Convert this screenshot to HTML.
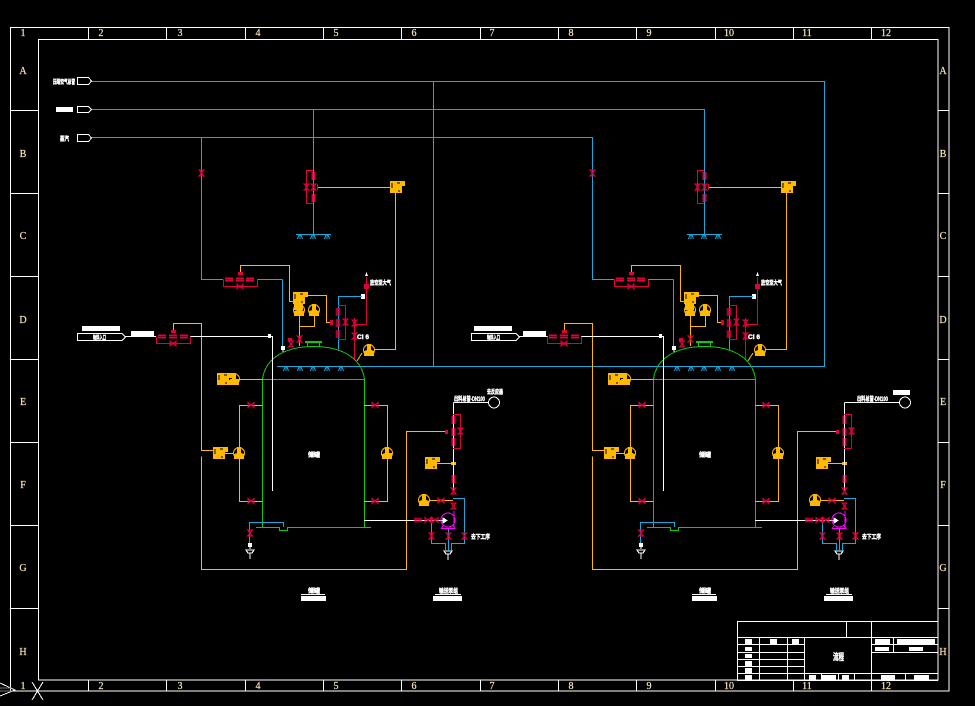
<!DOCTYPE html>
<html><head><meta charset="utf-8"><style>
html,body{margin:0;padding:0;background:#000;width:975px;height:706px;overflow:hidden}
svg{display:block}
.l{font:10px "Liberation Serif",serif;fill:#fbe6b8;stroke:#fbe6b8;stroke-width:.2;text-anchor:middle}
.t{font:bold 6px "Liberation Sans","Noto Sans CJK SC",sans-serif;fill:#fff;stroke:#fff;stroke-width:.4}
</style></head><body>
<svg width="975" height="706" viewBox="0 0 975 706" xmlns="http://www.w3.org/2000/svg" shape-rendering="crispEdges" fill="none">
<defs>
<path id="v" d="M-2.5-3H2.5L0 0L2.500 3H-2.500L0 0Z" stroke="#e0003c" fill="#e0003c" fill-opacity=".5"/>
<path id="h" d="M-3-2.5V2.5L0 0L3 2.500V-2.500L0 0Z" stroke="#e0003c" fill="#e0003c" fill-opacity=".5"/>
<path id="dv" d="M-2.5-3H2.5M-2.5-1H2.5M-2.5 1H2.5M-2.5 3H2.5M-1-4V4M1-4V4" stroke="#e0003c"/>
<path id="dh" d="M-3-2.5V2.5M-1-2.5V2.5M1-2.5V2.5M3-2.5V2.5M-4-1H4M-4 1H4" stroke="#e0003c"/>
<g id="g"><circle r="5.5" stroke="#ffb900"/><path d="M-5 6V1L-2 0V-6H2V0L5 1V6Z" fill="#ffb900"/></g>
<g id="b"><rect x="0" y="0" width="12" height="12" fill="#ffb900"/><rect x="12" y="0" width="3" height="5" fill="#ffb900"/><path d="M2 2V7M7 2H10M9 9V11" stroke="#000"/></g>
<path id="n" d="M-2.5 4L-1 0H1L2.5 4M0 0V4" stroke="#1aa9dc"/>

<g id="unit">
 <!-- tank -->
 <g stroke="#10c810">
  <path d="M262.5 379C266 356 288 346.500 313.500 346.500S361 356 364.500 379"/>
  <path d="M262.500 379.500H364.500M262.500 379V527M364.500 379V527M256 527.500H279.500V530.500H287.500V527.500H371"/>
  <path d="M307.500 342V347M319.500 342V347"/>
  <rect x="305" y="341" width="17" height="2" fill="#10c810" stroke="none"/>
 </g>
 <!-- yellow -->
 <g stroke="#ffb900">
  <path d="M395.500 193V349.500H374M318 187.500H390M362 353L357 361"/>
  <path d="M240.500 272V265.500H289.500V301.500H294M306 295.500H326.500V322.500H332"/>
  <path d="M299.500 316V346M314.500 315V326.500H299.500"/>
  <path d="M173.500 333V323.500H201.500V450.500H213M201.500 456.500V569.500H406.500V431.500H447"/>
  <path d="M230 379.500H262.500M225 453.500H234"/>
  <path d="M262 405.500H239.500V501.500H262M364 405.500H387.500V501.500H364M393 453.500H387"/>
  <path d="M437 463.500H452M430 500.500H453"/>
 </g>
 <rect x="451" y="462" width="5" height="3" fill="#ffb900"/>
 <use href="#b" x="390" y="181"/><use href="#b" x="293" y="292"/><use href="#b" x="217" y="373"/><use href="#b" x="213" y="447"/><use href="#b" x="425" y="457"/>
 <rect x="294" y="304" width="9" height="6" fill="#ffb900"/>
 <use href="#g" x="299" y="310"/><use href="#g" x="314" y="310"/><use href="#g" x="369" y="350"/><use href="#g" x="234" y="379"/><use href="#g" x="239" y="453"/><use href="#g" x="387" y="453"/><use href="#g" x="424" y="500"/>
 <!-- white piping -->
 <g stroke="#fff">
  <path d="M190 336.500H272.500V491"/><path d="M364 520.500H447"/>
  <path d="M453.500 402.500V490"/>
  <path d="M283 350V352"/>
  <path d="M246 550H254L252 553H248ZM250 553V559M444 551H452L450 554H446ZM448 554V560M250 546V549"/>
 </g>
 <rect x="268" y="334" width="3" height="4" fill="#fff"/><rect x="281" y="346" width="4" height="4" fill="#fff"/><rect x="361" y="294" width="4" height="5" fill="#fff"/><rect x="248" y="543" width="4" height="4" fill="#fff"/>
 <path d="M365 276L366.500 272L368 276Z" fill="#fff"/>
 <path d="M443 518L447 520.500L443 523Z" fill="#fff" stroke="#fff"/>
 <!-- blue branch -->
 <g stroke="#1aa9dc">
  <path d="M282.500 279.500V346"/>
  <path d="M338.500 350V296.500H362"/>
  <path d="M249.500 543V522.500H283.500V527"/>
  <path d="M431.500 520V543.500H445.500V551M448.500 528V551M451.500 551V543.500H464.500V498.500H453"/>
 </g>
 <g><use href="#n" x="286" y="367"/><use href="#n" x="300" y="367"/><use href="#n" x="313" y="367"/><use href="#n" x="327" y="367"/><use href="#n" x="341" y="367"/><use href="#n" x="300" y="235"/><use href="#n" x="313" y="235"/><use href="#n" x="327" y="235"/></g>
 <!-- red piping -->
 <g stroke="#e0003c">
  <path d="M313 170.500H306.500V203.500H313"/>
  <path d="M317.500 184V190"/>
  <path d="M223.500 279.500V286.500H257.500V279.500"/>
  <path d="M156.500 336.500V343.500H190.500V336.500"/>
  <path d="M338 305.500H345.500V339.500H338"/>
  <path d="M354.500 318V359"/>
  <path d="M366.500 277V324.500H356"/>
  <path d="M453 414.500H460.500V448.500H453"/>
 </g>
 <rect x="238" y="272" width="5" height="3" fill="#e0003c"/><rect x="171" y="330" width="5" height="3" fill="#e0003c"/>
 <rect x="364" y="284" width="5" height="5" fill="#e0003c"/><rect x="330" y="320" width="3" height="5" fill="#e0003c"/>
 <rect x="288" y="338" width="4" height="3" fill="#e0003c"/><rect x="445" y="430" width="3" height="4" fill="#e0003c"/>
 <use href="#dh" x="229" y="279.500"/><use href="#dh" x="240" y="279.500"/><use href="#dh" x="250" y="279.500"/><use href="#h" x="240" y="286.500"/>
 <use href="#dh" x="162" y="336.500"/><use href="#dh" x="173" y="336.500"/><use href="#dh" x="184" y="336.500"/><use href="#h" x="173" y="343.500"/>
 <use href="#dv" x="313.500" y="176"/><use href="#dv" x="313.500" y="198"/><use href="#v" x="313.500" y="187"/><use href="#v" x="306.500" y="187"/>
 <use href="#v" x="201.500" y="173"/>
 <use href="#dv" x="338" y="312"/><use href="#dv" x="338" y="323"/><use href="#dv" x="338" y="334"/><use href="#v" x="345.500" y="322"/>
 <use href="#v" x="354.500" y="323"/><use href="#v" x="354.500" y="336"/>
 <use href="#v" x="299.500" y="339"/><use href="#v" x="291" y="344"/>
 <use href="#h" x="251" y="405"/><use href="#h" x="251" y="501"/><use href="#h" x="375" y="405"/><use href="#h" x="375" y="501"/>
 <use href="#v" x="250" y="533"/>
 <use href="#dv" x="453.500" y="420"/><use href="#dv" x="453.500" y="432"/><use href="#dv" x="453.500" y="442"/><use href="#v" x="460.500" y="431"/>
 <use href="#dv" x="453.500" y="479"/><use href="#v" x="453.500" y="491"/><use href="#h" x="441" y="500.500"/><use href="#v" x="453.500" y="506"/>
 <use href="#dh" x="418" y="520"/><use href="#h" x="428" y="520"/><use href="#h" x="435" y="520"/>
 <use href="#v" x="431.500" y="536"/><use href="#v" x="448.500" y="536"/><use href="#v" x="464.500" y="536"/>
 <!-- pump -->
 <g stroke="#ff00ff"><circle cx="448" cy="520" r="7"/><path d="M454 511V527M441 528.500H455.500M443 526L441 528.500M453 526L455 528.500"/></g>
 <path d="M301 594.500H325M435 594.500H461" stroke="#fff"/>
 <rect x="301" y="596" width="25" height="5" fill="#fff"/><rect x="433" y="596" width="29" height="5" fill="#fff"/>
</g>
</defs>

<!-- frame -->
<g stroke="#fff">
<rect x="10.500" y="27.500" width="938.500" height="663.500"/>
<rect x="38.500" y="39.500" width="899.500" height="640.500"/>
<path d="M10 110.500H38M10 193.500H38M10 276.500H38M10 359.500H38M10 442.500H38M10 525.500H38M10 608.500H38"/>
<path d="M938 110.500H949M938 193.500H949M938 276.500H949M938 359.500H949M938 442.500H949M938 525.500H949M938 608.500H949"/>
<path d="M88.500 27V39M166.500 27V39M245.500 27V39M323.500 27V39M401.500 27V39M480.500 27V39M558.500 27V39M636.500 27V39M715.500 27V39M793.500 27V39M871.500 27V39"/>
<path d="M88.500 680V691M166.500 680V691M245.500 680V691M323.500 680V691M401.500 680V691M480.500 680V691M558.500 680V691M636.500 680V691M715.500 680V691M793.500 680V691M871.500 680V691"/>
<path d="M0 683L15 690L0 696M32 682L43 700M43 682L32 700"/>
</g>
<path d="M0 688H12M0 691H12" stroke="#777"/>
<g class="l">
<text x="23" y="36">1</text><text x="101" y="36">2</text><text x="180" y="36">3</text><text x="258" y="36">4</text><text x="336" y="36">5</text><text x="414" y="36">6</text><text x="492" y="36">7</text><text x="571" y="36">8</text><text x="649" y="36">9</text><text x="729" y="36">10</text><text x="807" y="36">11</text><text x="886" y="36">12</text>
<text x="23" y="689">1</text><text x="101" y="689">2</text><text x="180" y="689">3</text><text x="258" y="689">4</text><text x="336" y="689">5</text><text x="414" y="689">6</text><text x="492" y="689">7</text><text x="571" y="689">8</text><text x="649" y="689">9</text><text x="729" y="689">10</text><text x="807" y="689">11</text><text x="886" y="689">12</text>
<text x="23" y="74">A</text><text x="23" y="157">B</text><text x="23" y="239">C</text><text x="23" y="323">D</text><text x="23" y="405">E</text><text x="23" y="488">F</text><text x="23" y="571">G</text><text x="23" y="655">H</text>
<text x="943" y="74">A</text><text x="943" y="157">B</text><text x="943" y="239">C</text><text x="943" y="323">D</text><text x="943" y="405">E</text><text x="943" y="488">F</text><text x="943" y="571">G</text><text x="943" y="655">H</text>
</g>

<!-- main headers -->
<g stroke="#1aa9dc">
<path d="M91 81.500H824.500V366.500H277"/>
<path d="M433.500 81.500V366.500"/>
<path d="M91 109.500H704.500V235M313.500 109.500V235"/>
<path d="M91 137.500H592.500V279.500H614M201.500 137.500V279.500H223"/>
<path d="M257 279.500H282.500M648 279.500H673.500"/>
<path d="M296 234.500H331M687 234.500H722"/>
<path d="M668 366.500H824"/>
</g>
<g stroke="#fff">
<path d="M77.500 77.500H88.500L91.500 81L88.500 84.500H77.500Z"/>
<path d="M77.500 106.500H88.500L91.500 109.500L88.500 112.500H77.500Z"/>
<path d="M77.500 134.500H88.500L91.500 138L88.500 141.500H77.500Z"/>
<path d="M77.500 333.500H122L125.500 337L122 340.500H77.500Z"/>
<path d="M125 336.500H156"/>
<path d="M471.500 333.500H516L519.500 337L516 340.500H471.500Z"/>
<path d="M519 336.500H548"/>
<path d="M453.500 402.500H488.500"/>
<circle cx="494" cy="402.500" r="5.500"/>
<path d="M844.500 402.500H900"/>
<circle cx="905" cy="402.500" r="5.500"/>
</g>
<use href="#unit"/>
<use href="#unit" x="391"/>
<g fill="#fff">
<rect x="56" y="107" width="17" height="5"/>
<rect x="82" y="326" width="38" height="5"/><rect x="131" y="331" width="23" height="5"/>
<rect x="474" y="326" width="38" height="5"/><rect x="523" y="331" width="23" height="5"/>
<rect x="893" y="390" width="17" height="5"/>
</g>
<g class="t">
<text x="53" y="84" textLength="22" lengthAdjust="spacingAndGlyphs">压缩空气总管</text>
<text x="60" y="141" textLength="9" lengthAdjust="spacingAndGlyphs">蒸汽</text>
<text x="93" y="340" textLength="13" lengthAdjust="spacingAndGlyphs">物料入口</text>
<text x="487" y="340" textLength="13" lengthAdjust="spacingAndGlyphs">物料入口</text>
<text x="370" y="285" textLength="21" lengthAdjust="spacingAndGlyphs">放空至大气</text>
<text x="761" y="285" textLength="21" lengthAdjust="spacingAndGlyphs">放空至大气</text>
<text x="357" y="339" textLength="12" lengthAdjust="spacingAndGlyphs">CI 6</text>
<text x="748" y="339" textLength="12" lengthAdjust="spacingAndGlyphs">CI 6</text>
<text x="454" y="401" textLength="31" lengthAdjust="spacingAndGlyphs">出料总管-DN100</text>
<text x="857" y="401" textLength="31" lengthAdjust="spacingAndGlyphs">出料总管-DN100</text>
<text x="487" y="394" textLength="16" lengthAdjust="spacingAndGlyphs">去反应器</text>
<text x="471" y="539" textLength="19" lengthAdjust="spacingAndGlyphs">去下工序</text>
<text x="862" y="539" textLength="19" lengthAdjust="spacingAndGlyphs">去下工序</text>
<text x="308" y="593" textLength="12" lengthAdjust="spacingAndGlyphs">储罐</text>
<text x="699" y="593" textLength="12" lengthAdjust="spacingAndGlyphs">储罐</text>
<text x="439" y="593" textLength="19" lengthAdjust="spacingAndGlyphs">输送泵组</text>
<text x="830" y="593" textLength="19" lengthAdjust="spacingAndGlyphs">输送泵组</text>
<text x="308" y="457" textLength="12" lengthAdjust="spacingAndGlyphs">储罐</text>
<text x="699" y="457" textLength="12" lengthAdjust="spacingAndGlyphs">储罐</text>
<text x="833" y="660" textLength="11" lengthAdjust="spacingAndGlyphs" style="font-size:9px">流程</text>
</g>

<!-- title block -->
<g stroke="#fff">
<path d="M737.500 680V621.500H938M737.500 637.500H938M846.500 621V637M871.500 621V691"/>
<path d="M737 644.500H804M737 652.500H804M737 659.500H804M737 666.500H804M737 673.500H938M759.500 637V680M787.500 637V680M804.500 637V680"/>
<path d="M871 644.500H938M871 652.500H938M893.500 637V652"/>
<path d="M737 680.500H938M821.500 673V680M838.500 673V680M854.500 673V680M905.500 673V680"/>
</g>
<g fill="#fff">
<rect x="745" y="639" width="7" height="5"/><rect x="745" y="647" width="7" height="4"/><rect x="745" y="654" width="7" height="4"/><rect x="745" y="661" width="7" height="5"/><rect x="745" y="668" width="7" height="5"/><rect x="745" y="675" width="7" height="5"/>
<rect x="770" y="639" width="7" height="5"/><rect x="792" y="639" width="7" height="5"/>
<rect x="809" y="675" width="7" height="5"/><rect x="821" y="675" width="15" height="5"/><rect x="842" y="675" width="7" height="5"/><rect x="881" y="675" width="14" height="5"/><rect x="914" y="675" width="15" height="5"/>
<rect x="875" y="639" width="15" height="5"/><rect x="897" y="639" width="38" height="5"/><rect x="875" y="647" width="14" height="4"/><rect x="909" y="647" width="14" height="4"/>
</g>
</svg>
</body></html>
